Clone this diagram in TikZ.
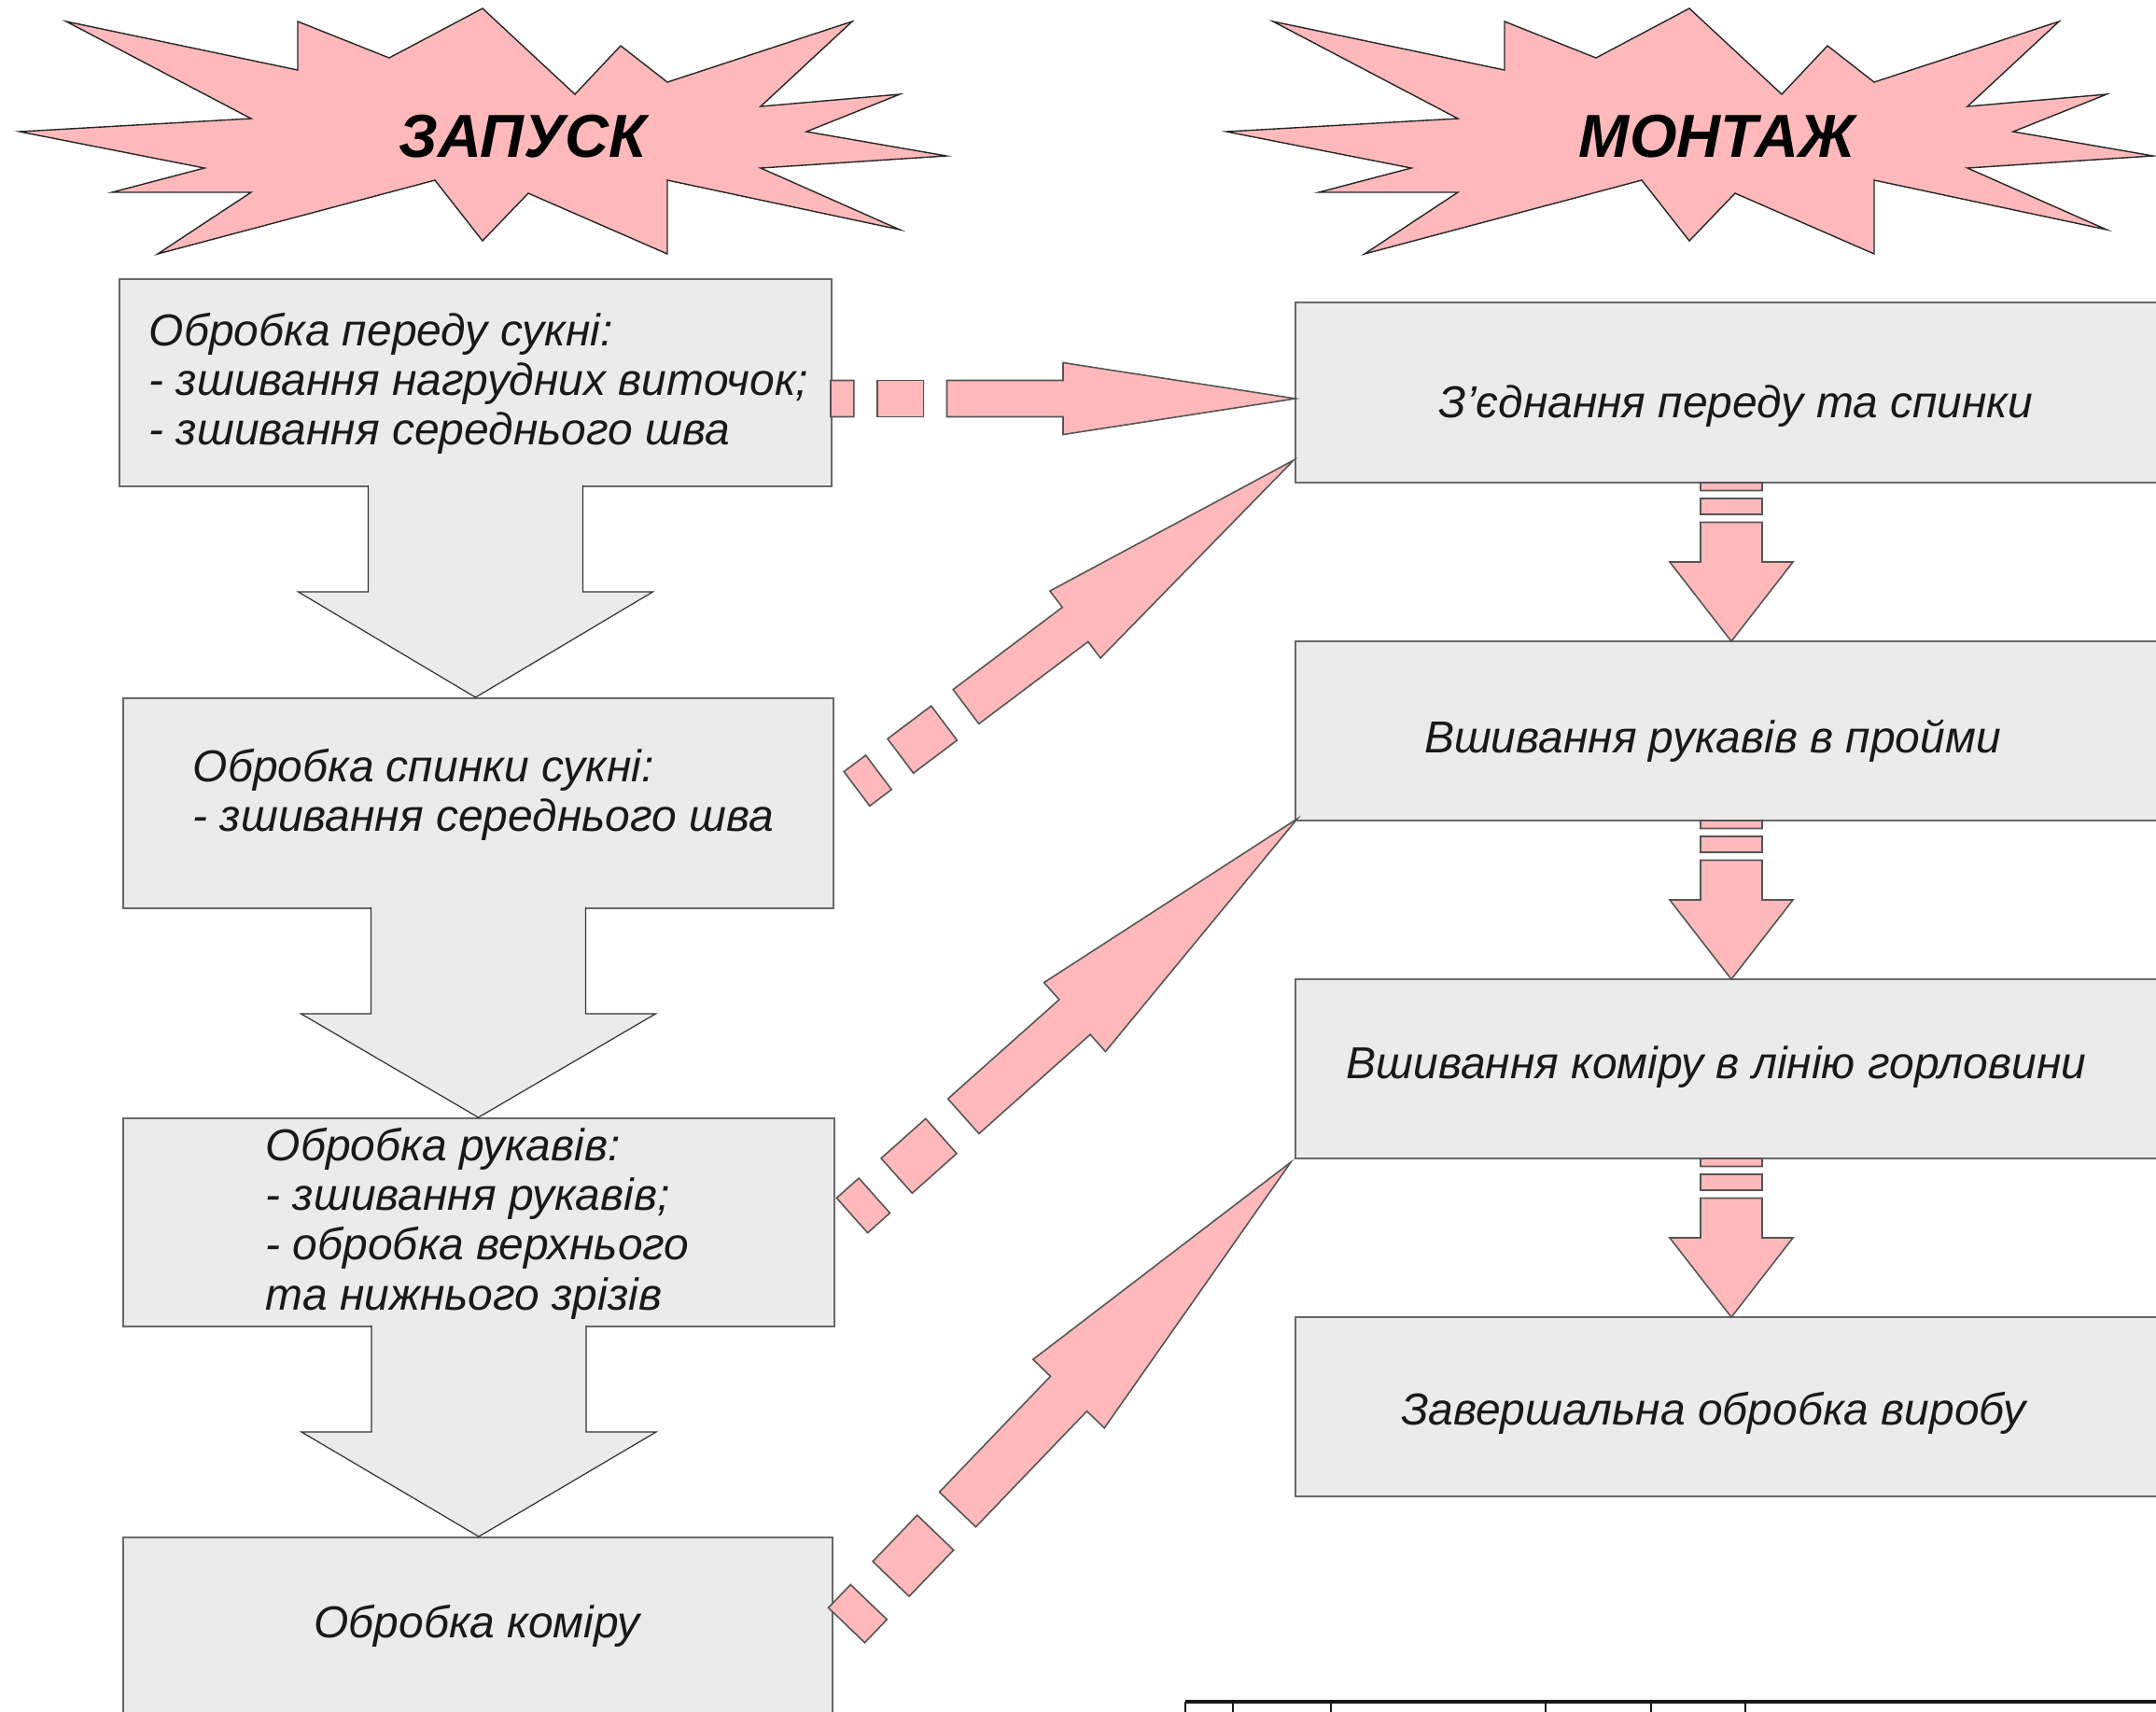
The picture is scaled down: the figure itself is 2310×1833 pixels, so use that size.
\documentclass[tikz,border=0pt]{standalone}
\usepackage{fontspec}
\setmainfont{Liberation Sans}
\usetikzlibrary{calc}
\definecolor{pinkfill}{RGB}{255,185,187}
\definecolor{boxfill}{RGB}{235,235,235}
\definecolor{boxline}{RGB}{105,105,105}
\definecolor{arrline}{RGB}{85,85,85}
\definecolor{txt}{RGB}{25,25,25}

\newcommand\dasharr[4]{%
 \filldraw[pinkarr] ($(#1)!#3!90:(#2)$) -- ($(#1)!0.05!(#2)!#3!90:(#2)$) -- ($(#1)!0.05!(#2)!#3!-90:(#2)$) -- ($(#1)!#3!-90:(#2)$) -- cycle;
 \filldraw[pinkarr] ($(#1)!0.1!(#2)!#3!90:(#2)$) -- ($(#1)!0.2!(#2)!#3!90:(#2)$) -- ($(#1)!0.2!(#2)!#3!-90:(#2)$) -- ($(#1)!0.1!(#2)!#3!-90:(#2)$) -- cycle;
 \filldraw[pinkarr] ($(#1)!0.25!(#2)!#3!90:(#2)$) -- ($(#1)!0.5!(#2)!#3!90:(#2)$) -- ($(#1)!0.5!(#2)!#4!90:(#2)$) -- (#2) -- ($(#1)!0.5!(#2)!#4!-90:(#2)$) -- ($(#1)!0.5!(#2)!#3!-90:(#2)$) -- ($(#1)!0.25!(#2)!#3!-90:(#2)$) -- cycle;
}
\newcommand\grayarr[2]{%
 \filldraw[grayarrow] ($(#1.south)+(-115,-2)$) -- ($(#1.south)+(-115,112)$) -- ($(#1.south)+(-190,112)$) -- (#1.south |- #2.north) -- ($(#1.south)+(190,112)$) -- ($(#1.south)+(115,112)$) -- ($(#1.south)+(115,-2)$);
}
\newcommand\burst{%
 (71,23) -- (319,75) -- (319,23) -- (417,62) -- (517,9) -- (616,101) -- (665,49) -- (715,88) -- (913,23) -- (815,114) -- (964,101) -- (864,141) -- (1014,167) -- (815,180) -- (964,246) -- (715,193) -- (715,272) -- (566,207) -- (517,258) -- (466,193) -- (169,272) -- (269,206) -- (120,206) -- (219,180) -- (21,141) -- (269,127) -- cycle}

\begin{document}
\begin{tikzpicture}[x=0.1mm, y=-0.1mm,
  lbox/.style={draw=boxline, fill=boxfill, line width=0.55pt, inner sep=0pt},
  btext/.style={inner sep=0pt, text=txt, font=\fontsize{13.65}{15.2}\selectfont\itshape},
  title/.style={inner sep=0pt, text=black, font=\fontsize{18.5}{20}\selectfont\bfseries\itshape, anchor=base},
  pinkarr/.style={fill=pinkfill, draw=arrline, line width=0.45pt, line join=miter},
  grayarrow/.style={fill=boxfill, draw=black!80, line width=0.35pt},
  burststyle/.style={fill=pinkfill, draw=black!85, line width=0.4pt},
  tableline/.style={draw=black!90}]
\useasboundingbox (0,0) rectangle (2310,1833);
\clip (0,0) rectangle (2310,1833);

% starbursts
\filldraw[burststyle] \burst;
\begin{scope}[shift={(1293,0)}]
\filldraw[burststyle] \burst;
\end{scope}
\node[title] (t1) at (560,168) {ЗАПУСК};
\node[title] (t2) at (1840,168) {МОНТАЖ};

% left boxes
\node[lbox, minimum width=76.3mm, minimum height=22.2mm] (b1) at (509.5,410) {};
\node[lbox, minimum width=76.1mm, minimum height=22.5mm] (b2) at (512.5,860.5) {};
\node[lbox, minimum width=76.2mm, minimum height=22.3mm] (b3) at (513,1309.5) {};
\node[lbox, minimum width=76.0mm, minimum height=22.3mm] (b4) at (512,1758.5) {};

% right boxes
\node[lbox, minimum width=93.8mm, minimum height=19.3mm] (r1) at (1857,420.5) {};
\node[lbox, minimum width=93.8mm, minimum height=19.2mm] (r2) at (1857,783) {};
\node[lbox, minimum width=93.8mm, minimum height=19.2mm] (r3) at (1857,1145) {};
\node[lbox, minimum width=93.8mm, minimum height=19.2mm] (r4) at (1857,1507) {};

% texts
\node[btext, anchor=base west] (x1) at (159,370) {\begin{tabular}[t]{@{}l@{}}Обробка переду сукні:\\- зшивання нагрудних виточок;\\- зшивання середнього шва\end{tabular}};
\node[btext, anchor=base west] (x2) at (206,837) {\begin{tabular}[t]{@{}l@{}}Обробка спинки сукні:\\- зшивання середнього шва\end{tabular}};
\node[btext, anchor=base west] (x3) at (284,1243) {\begin{tabular}[t]{@{}l@{}}Обробка рукавів:\\- зшивання рукавів;\\- обробка верхнього\\та нижнього зрізів\end{tabular}};
\node[btext, anchor=base] (x4) at (511,1754) {Обробка коміру};
\node[btext, anchor=base] (y1) at (1860,447) {З’єднання переду та спинки};
\node[btext, anchor=base] (y2) at (1835,806) {Вшивання рукавів в пройми};
\node[btext, anchor=base] (y3) at (1839,1155) {Вшивання коміру в лінію горловини};
\node[btext, anchor=base] (y4) at (1836,1526) {Завершальна обробка виробу};

% gray arrows
\grayarr{b1}{b2}
\grayarr{b2}{b3}
\grayarr{b3}{b4}

% connector end points
\coordinate (hs) at (890,427);
\coordinate (he) at (1388,427);
\coordinate (d1s) at (918,845);
\coordinate (d1e) at (1386,493);
\coordinate (d2s) at (913,1302);
\coordinate (d2e) at (1390,877);
\coordinate (d3s) at (907,1741);
\coordinate (d3e) at (1383,1245);
\coordinate (v1s) at (1855,517);
\coordinate (v1e) at (1855,687);
\coordinate (v2s) at (1855,879);
\coordinate (v2e) at (1855,1049);
\coordinate (v3s) at (1855,1241);
\coordinate (v3e) at (1855,1411);

\dasharr{hs}{he}{1.95mm}{3.85mm}
\dasharr{d1s}{d1e}{2.3mm}{4.5mm}
\dasharr{d2s}{d2e}{2.5mm}{4.95mm}
\dasharr{d3s}{d3e}{2.7mm}{5.3mm}
\dasharr{v1s}{v1e}{3.3mm}{6.6mm}
\dasharr{v2s}{v2e}{3.3mm}{6.6mm}
\dasharr{v3s}{v3e}{3.3mm}{6.6mm}

% table fragment at bottom
\draw[tableline, line width=0.9pt] (1270,1823) -- (2320,1823);
\foreach \tx in {1270,1321,1426,1656,1769,1870}
  \draw[tableline, line width=0.6pt] (\tx,1823) -- (\tx,1845);
\end{tikzpicture}
\end{document}
